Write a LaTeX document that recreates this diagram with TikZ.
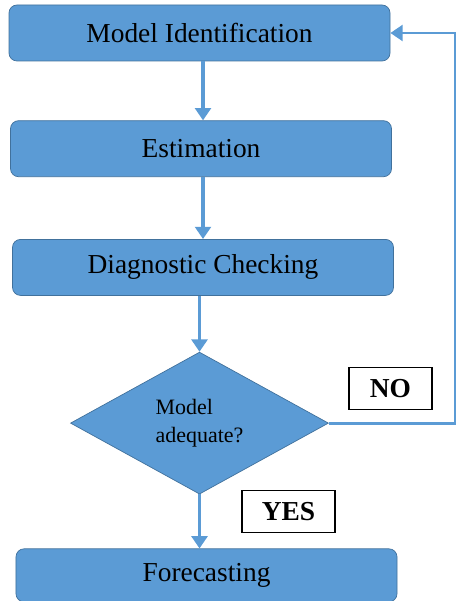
\documentclass[tikz,border=0pt]{standalone}
\usepackage{fontspec}
\setmainfont{Liberation Serif}
\usepackage{tikz}
\usetikzlibrary{shapes,arrows.meta,positioning,calc}
\definecolor{boxfill}{HTML}{5B9BD5}
\definecolor{boxline}{HTML}{41719C}

\begin{document}
\begin{tikzpicture}[
    every node/.style={font=\fontsize{15.6}{18}\selectfont},
    block/.style={rectangle, draw=boxline, fill=boxfill, minimum width=7.62cm, minimum height=1.12cm, text centered, rounded corners=0.16cm},
    decision/.style={diamond, draw=boxline, fill=boxfill, minimum width=5.16cm, minimum height=2.84cm, inner sep=0pt, align=left, font=\rmfamily\fontsize{12.5}{16}\selectfont},
    answer/.style={rectangle, draw=black, line width=1.1pt, fill=white, minimum width=1.66cm, minimum height=0.84cm, font=\bfseries\fontsize{15.6}{18}\selectfont},
    arrow/.style={boxfill, line width=2.2pt, -{Triangle[width=9pt,length=7pt]}}
]
    \useasboundingbox (0,0) rectangle (9.14,-12.02);

    % Nodes
    \node[block] (ident) at (3.99,-0.66) {Model Identification};
    \node[block, below=1.18cm of ident, xshift=0.03cm] (estim) {Estimation};
    \node[block, below=1.24cm of estim, xshift=0.04cm] (check) {Diagnostic Checking};
    \node[decision, below=1.12cm of check, xshift=-0.07cm] (adequate) {Model\\adequate?};
    \node[block, below=1.08cm of adequate, xshift=0.14cm, minimum height=1.06cm] (forecast) {Forecasting};
    \coordinate (back) at (9.1,-0.66);

    % Arrows
    \draw[arrow] ([xshift=0.07cm]ident.south) -- ([xshift=0.07cm]ident.south |- estim.north);
    \draw[arrow] ([xshift=0.04cm]estim.south) -- ([xshift=0.04cm]estim.south |- check.north);
    \draw[arrow] (adequate.north |- check.south) -- (adequate.north);
    \draw[arrow] (adequate.south) -- (adequate.south |- forecast.north);
    \draw[arrow, line width=1.6pt] (adequate.east) -| (back) |- (ident.east);

    % Answers
    \node[answer] (no) at (7.81,-7.77) {NO};
    \node[answer, minimum width=1.86cm] (yes) at (5.77,-10.23) {YES};

\end{tikzpicture}
\end{document}
